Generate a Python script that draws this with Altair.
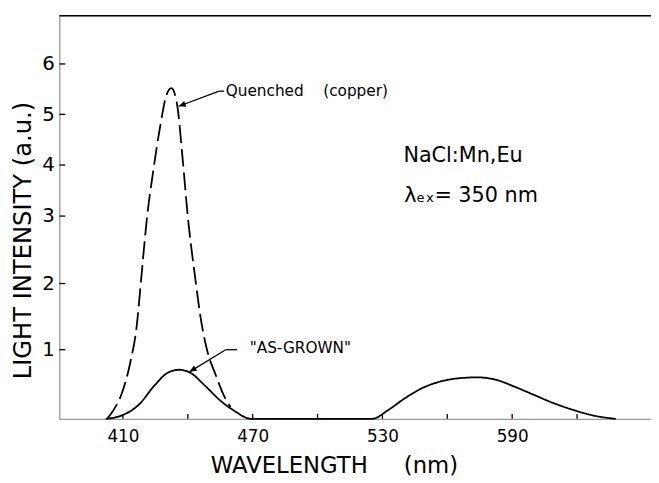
import altair as alt
import pandas as pd

# ---- data (wavelength in nm, intensity in a.u.) ----
quenched_wl = [402.7, 405.3, 409.5, 413.3, 416.3, 418.7, 421.0, 424.0, 427.1, 430.1,
               432.4, 435.1, 437.7, 440.0, 443.1, 446.4, 449.1, 452.6, 456.8, 459.8]
quenched_int = [0.0, 0.11, 0.37, 0.80, 1.34, 2.16, 2.94, 3.88, 4.73, 5.38,
                5.52, 5.18, 4.08, 2.99, 2.16, 1.39, 0.97, 0.66, 0.33, 0.17]

grown_wl = [402.0, 409.5, 417.2, 424.8, 430.9, 436.2, 441.5, 447.6, 455.2, 461.3,
            469.4, 485.0, 505.0, 525.2, 532.8, 540.5, 548.1, 555.7, 563.3, 573.9,
            583.1, 590.7, 599.8, 608.9, 618.1, 627.2, 637.9]
grown_int = [0.0, 0.05, 0.20, 0.49, 0.67, 0.71, 0.66, 0.49, 0.26, 0.12,
             0.0, 0.0, 0.0, 0.0, 0.13, 0.30, 0.44, 0.53, 0.58, 0.60,
             0.56, 0.47, 0.35, 0.23, 0.13, 0.05, 0.0]

x_label_values = [410, 470, 530, 590]
x_tick_values = [410, 440, 470, 500, 530, 560, 590, 620]
y_tick_values = [1, 2, 3, 4, 5, 6]

# annotation texts (anchor in data units)
note_text = ["Quenched\u00a0\u00a0\u00a0\u00a0(copper)", "\"AS-GROWN\""]
note_wl = [457.5, 468.6]
note_val = [5.46, 1.03]

sample_text = ["NaCl:Mn,Eu", "\u03bb\u2091\u2093= 350 nm"]
sample_wl = [539.7, 540.1]
sample_val = [4.17, 3.40]

# leader lines (from, to) in data units
lead_wl = [456.8, 454.5, 462.8, 457.5]
lead_val = [5.46, 5.46, 1.00, 1.00]
lead_wl2 = [454.5, 435.8, 457.5, 440.8]
lead_val2 = [5.46, 5.16, 1.00, 0.68]

# arrow tips
tip_wl = [435.8, 440.8]
tip_val = [5.16, 0.68]
tip_angle = [159.5, 148.3]

# ---- tables ----
curves = pd.concat([
    pd.DataFrame({"wl": quenched_wl, "val": quenched_int, "series": "Quenched (copper)"}),
    pd.DataFrame({"wl": grown_wl, "val": grown_int, "series": "As-grown"}),
], ignore_index=True)
notes = pd.DataFrame({"wl": note_wl, "val": note_val, "text": note_text})
samples = pd.DataFrame({"wl": sample_wl, "val": sample_val, "text": sample_text})
leads = pd.DataFrame({"wl": lead_wl, "val": lead_val, "wl2": lead_wl2, "val2": lead_val2})
tips = pd.DataFrame({"wl": tip_wl, "val": tip_val, "angle": tip_angle})
xticks = pd.DataFrame({"wl": x_tick_values})
yticks = pd.DataFrame({"val": y_tick_values})
frame = pd.DataFrame({"k": [0]})

W, H = 599, 408
FONT = "DejaVu Sans"

x_scale = alt.Scale(domain=[380.6, 654.2], nice=False, zero=False)
# the original hand-drawn ordinate is not uniform: piecewise-linear scale
y_scale = alt.Scale(domain=[0, 1, 2, 3, 4, 5, 6, 6.95],
                    range=[408, 338, 271, 202.7, 151, 99.7, 48.7, 0],
                    nice=False, zero=False)

x_axis = alt.Axis(values=x_label_values, ticks=False, grid=False, domain=True,
                  labelFont=FONT, labelFontSize=17, labelPadding=10,
                  title="WAVELENGTH\u00a0\u00a0\u00a0\u00a0\u00a0(nm)",
                  titleFont=FONT, titleFontWeight="normal",
                  titleFontSize=23, titleX=278, titleY=36)
y_axis = alt.Axis(values=y_tick_values, ticks=False, grid=False, domain=True,
                  labelFont=FONT, labelFontSize=20, labelPadding=5,
                  title="LIGHT INTENSITY (a.u.)",
                  titleFont=FONT, titleFontWeight="normal",
                  titleFontSize=24.5, titleBaseline="alphabetic",
                  titleX=-29, titleY=227)


def xe(field="wl"):
    return alt.X(f"{field}:Q", scale=x_scale, axis=x_axis)


def ye(field="val"):
    return alt.Y(f"{field}:Q", scale=y_scale, axis=y_axis)


lines = alt.Chart(curves).mark_line(color="black", strokeWidth=1.8,
                                    interpolate="monotone").encode(
    x=xe(), y=ye(),
    detail="series:N",
    strokeDash=alt.StrokeDash("series:N",
                              scale=alt.Scale(domain=["As-grown", "Quenched (copper)"],
                                              range=[[1, 0], [18, 6]]),
                              legend=None),
)

xtick_layer = alt.Chart(xticks).mark_rule(color="black", strokeWidth=1.3).encode(
    x=xe(), y=alt.value(H), y2=alt.value(H - 5))
ytick_layer = alt.Chart(yticks).mark_rule(color="black", strokeWidth=1.3).encode(
    y=ye(), x=alt.value(0), x2=alt.value(6))
top_line = alt.Chart(frame).mark_rule(color="black", strokeWidth=1.5).encode(
    x=alt.value(0), x2=alt.value(W), y=alt.value(0))

lead_layer = alt.Chart(leads).mark_rule(color="black", strokeWidth=1.3).encode(
    x=xe(), y=ye(), x2=alt.X2("wl2:Q"), y2=alt.Y2("val2:Q"))
tip_layer = alt.Chart(tips).mark_point(
    shape="M0,0L-1,-0.45L-1,0.45Z", filled=True, color="black", opacity=1,
    size=200, strokeWidth=0).encode(
    x=xe(), y=ye(), angle=alt.Angle("angle:Q", scale=None))

note_layer = alt.Chart(notes).mark_text(
    align="left", baseline="middle", font=FONT, fontSize=15.5, color="black").encode(
    x=xe(), y=ye(), text="text:N")
sample_layer = alt.Chart(samples).mark_text(
    align="left", baseline="middle", font=FONT, fontSize=21, color="black").encode(
    x=xe(), y=ye(), text="text:N")

chart = alt.layer(
    lines, xtick_layer, ytick_layer, top_line, lead_layer, tip_layer,
    note_layer, sample_layer
).properties(
    width=W, height=H,
    autosize=alt.AutoSizeParams(type="none"),
    padding={"left": 52, "top": 5, "right": 0, "bottom": 62},
).configure_view(
    stroke=None
).configure_axis(
    domainColor="black", domainWidth=1.5,
    labelFont=FONT, labelColor="black",
    titleFont=FONT, titleColor="black", titleFontWeight="normal",
).configure(background="white")

chart.save("out.html", embed_options={"renderer": "svg", "actions": False})
